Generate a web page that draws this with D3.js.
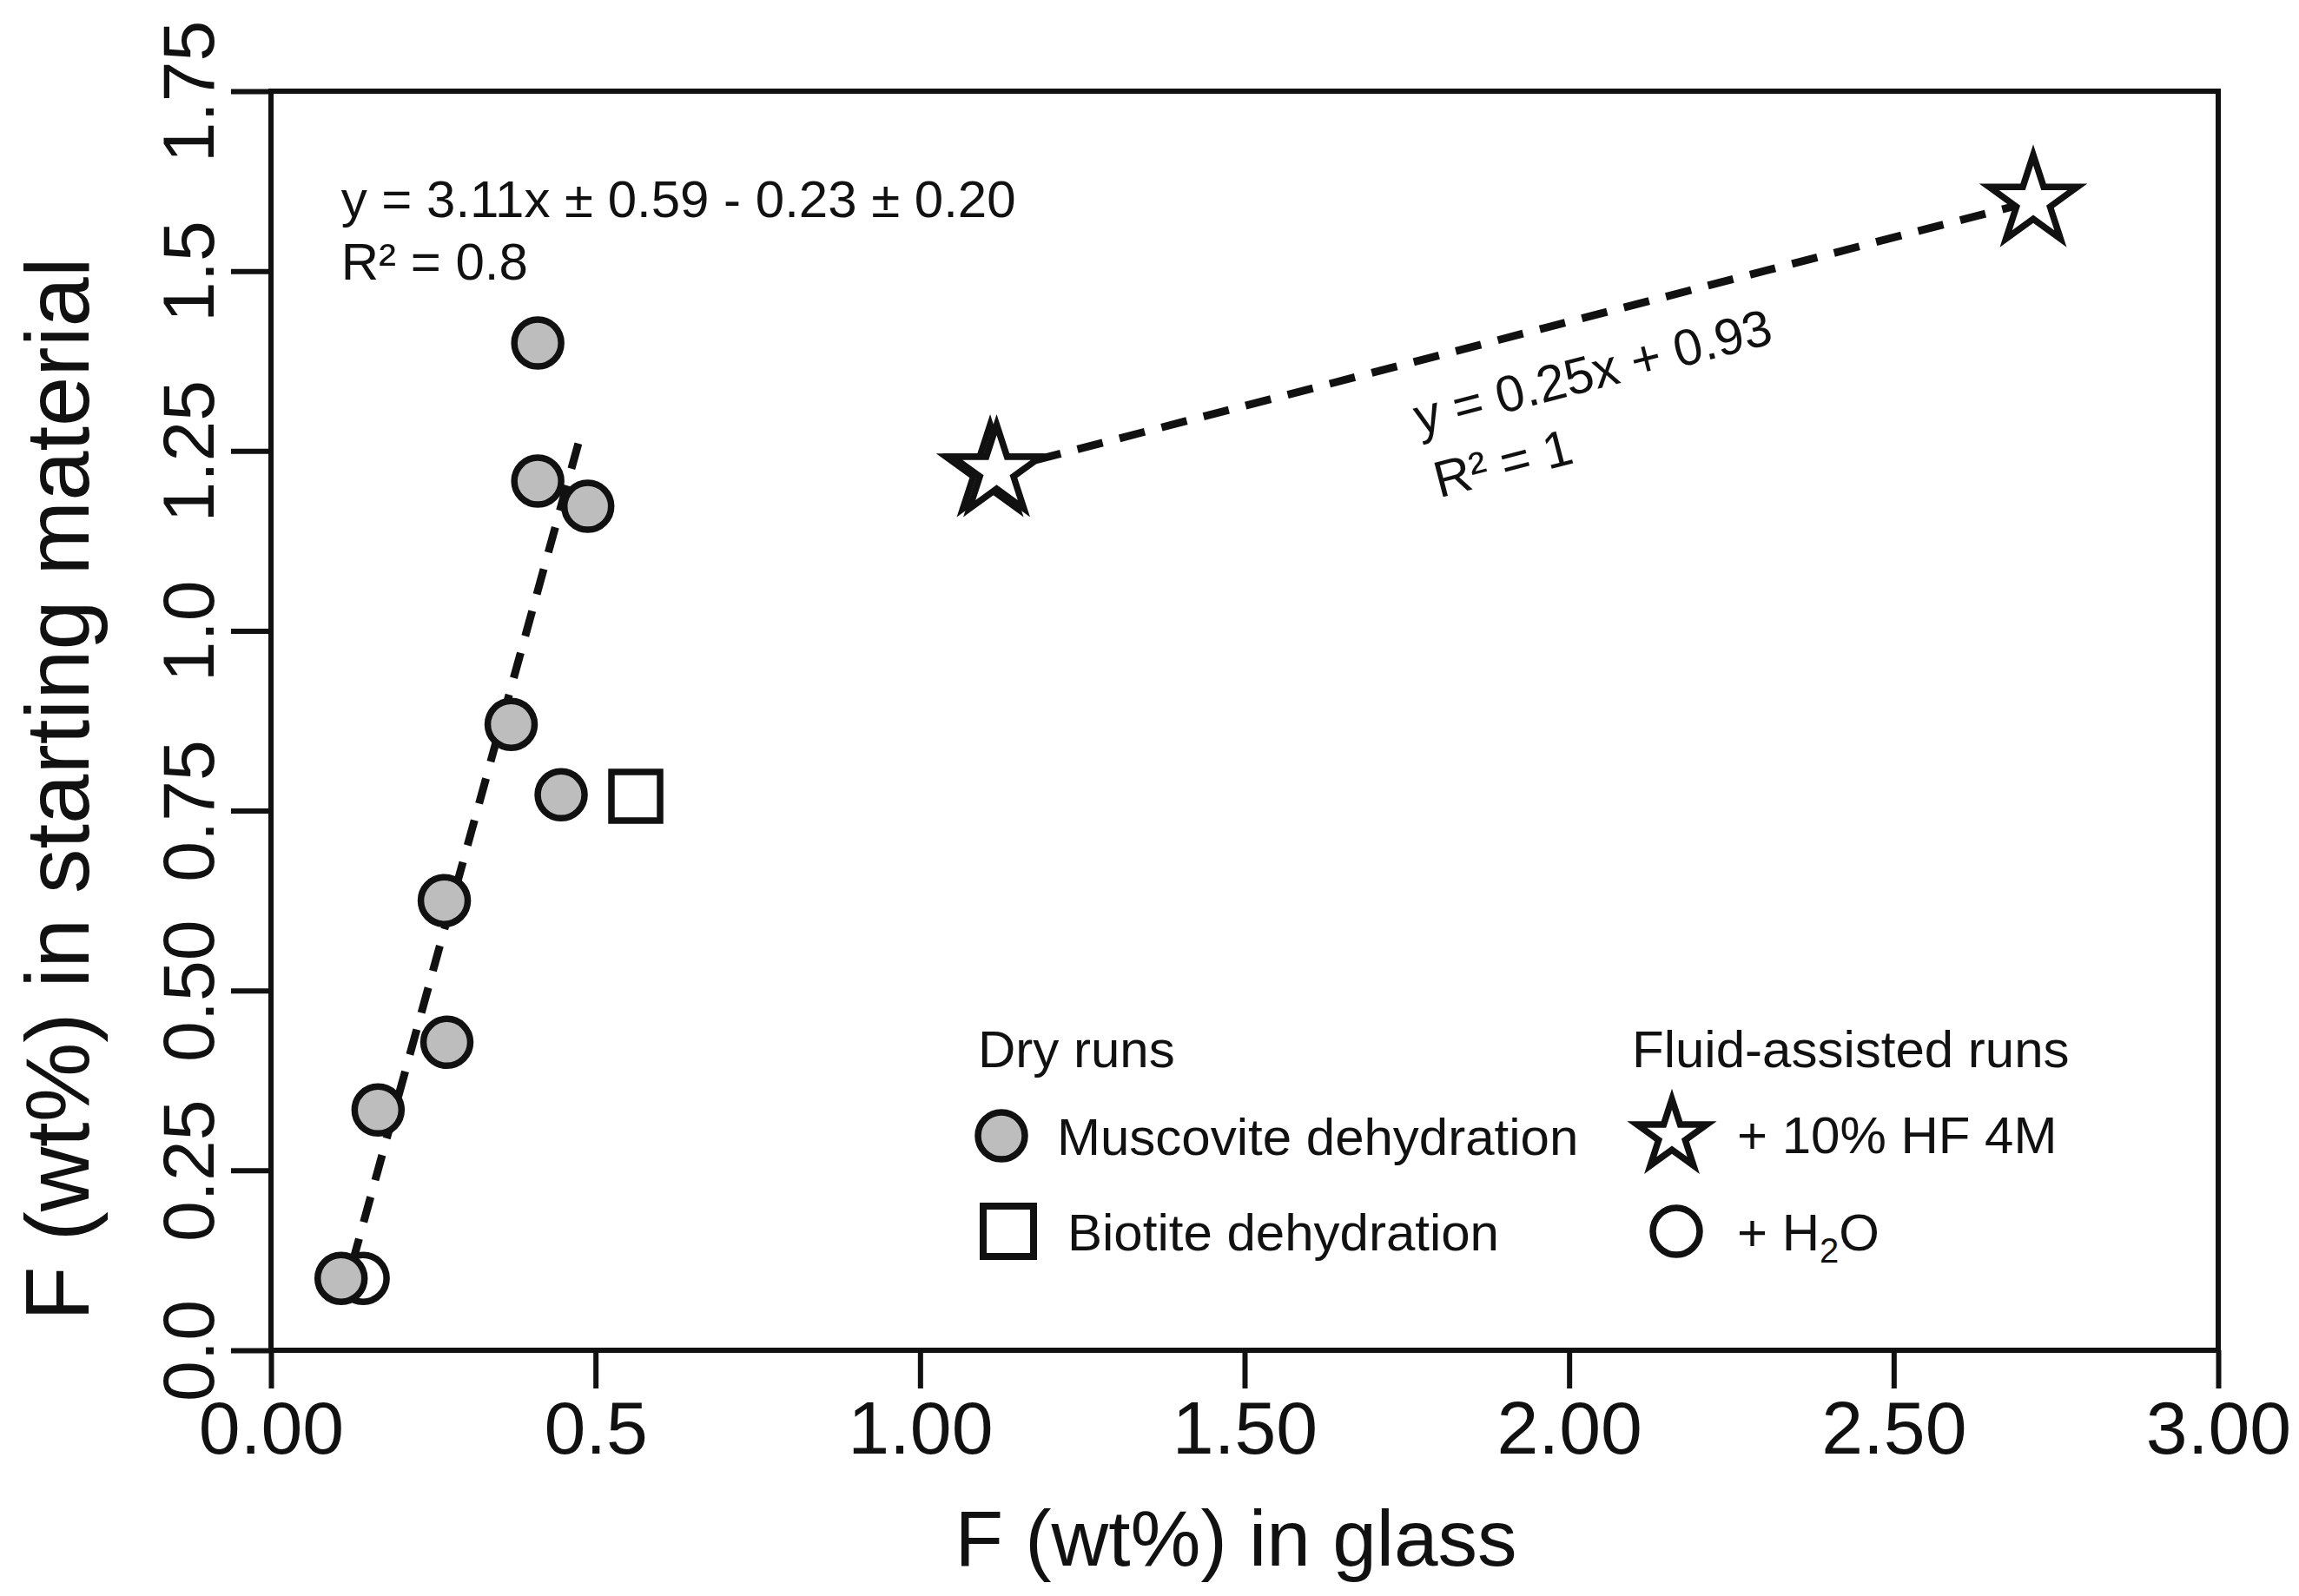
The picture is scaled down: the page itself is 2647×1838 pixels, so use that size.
<!DOCTYPE html>
<html>
<head>
<meta charset="utf-8">
<script src="https://cdn.jsdelivr.net/npm/d3@7"></script>
<style>
  body { margin: 0; background: #fff; }
  text { font-family: "Liberation Sans", Arial, sans-serif; fill: #111; }
</style>
</head>
<body>
<div id="chart-area"></div>
<script>
// values
const xTicks = [0, 0.5, 1, 1.5, 2, 2.5, 3]
const xTickLabels = ["0.00", "0.5", "1.00", "1.50", "2.00", "2.50", "3.00"]
const yTicks = [0, 0.25, 0.5, 0.75, 1, 1.25, 1.5, 1.75]
const yTickLabels = ["0.0", "0.25", "0.50", "0.75", "1.0", "1.25", "1.5", "1.75"]

// dry runs
const muscoviteX = [0.411, 0.411, 0.488, 0.370, 0.447, 0.267, 0.271, 0.165, 0.108]
const muscoviteY = [1.40, 1.208, 1.173, 0.870, 0.772, 0.625, 0.428, 0.334, 0.10]
const biotiteX = [0.562]
const biotiteY = [0.77]
// fluid-assisted runs
const hfX = [1.108, 1.118, 2.715]
const hfY = [1.222, 1.222, 1.597]
const waterX = [0.142]
const waterY = [0.10]

// regression lines (end points as drawn)
const fitDryX = [0.125, 0.475]
const fitDryY = [0.12, 1.265]
const fitHfX = [1.113, 2.715]
const fitHfY = [1.222, 1.597]

const W = 2647, H = 1838
const margin = {left: 312, top: 105, right: 93, bottom: 283}
const width = W - margin.left - margin.right
const height = H - margin.top - margin.bottom

const svg = d3.select("#chart-area")
    .append("svg")
    .attr("width", W)
    .attr("height", H)

svg.append("rect").attr("width", W).attr("height", H).attr("fill", "#fff")

const g = svg.append("g")
    .attr("transform", `translate(${margin.left}, ${margin.top})`)

const x = d3.scaleLinear().domain([0, 3]).range([0, width])
const y = d3.scaleLinear().domain([0, 1.75]).range([height, 0])

// axes
const xAxisCall = d3.axisBottom(x)
    .tickValues(xTicks)
    .tickSize(44)
    .tickPadding(14)
    .tickFormat((d, i) => xTickLabels[i])
const xAxis = g.append("g")
    .attr("class", "x axis")
    .attr("transform", `translate(0, ${height})`)
    .call(xAxisCall)
xAxis.selectAll("text").attr("font-size", 86)

const yAxisCall = d3.axisLeft(y)
    .tickValues(yTicks)
    .tickSize(46)
    .tickFormat((d, i) => yTickLabels[i])
const yAxis = g.append("g")
    .attr("class", "y axis")
    .call(yAxisCall)
yAxis.selectAll("text")
    .attr("font-size", 84)
    .attr("text-anchor", "middle")
    .attr("x", 0)
    .attr("dy", 0)
    .attr("transform", "translate(-66, 0) rotate(-90)")

g.selectAll(".axis path, .axis line")
    .attr("stroke", "#111")
    .attr("stroke-width", 6)
g.selectAll(".axis .domain").remove()

// frame
g.append("rect")
    .attr("width", width)
    .attr("height", height)
    .attr("fill", "none")
    .attr("stroke", "#111")
    .attr("stroke-width", 6)

// axis titles
svg.append("text")
    .attr("x", margin.left + width / 2 - 10)
    .attr("y", 1803)
    .attr("text-anchor", "middle")
    .attr("font-size", 91)
    .text("F (wt%) in glass")

svg.append("text")
    .attr("transform", `translate(102, ${margin.top + y(0.78)}) rotate(-90)`)
    .attr("text-anchor", "middle")
    .attr("font-size", 103)
    .text("F (wt%) in starting material")

// regression lines
const line = d3.line().x(d => x(d[0])).y(d => y(d[1]))

g.append("path")
    .attr("d", line(d3.zip(fitDryX, fitDryY)))
    .attr("fill", "none")
    .attr("stroke", "#111")
    .attr("stroke-width", 9)
    .attr("stroke-dasharray", "30,20")

g.append("path")
    .attr("d", line(d3.zip(fitHfX, fitHfY)))
    .attr("fill", "none")
    .attr("stroke", "#111")
    .attr("stroke-width", 9)
    .attr("stroke-dasharray", "30,20")

// equations
const eq1 = g.append("text")
    .attr("x", x(0.108))
    .attr("y", y(1.575))
    .attr("font-size", 60)
eq1.append("tspan").text("y = 3.11x \u00b1 0.59 - 0.23 \u00b1 0.20")
eq1.append("tspan").attr("x", x(0.108)).attr("dy", 72).text("R\u00b2 = 0.8")

const angle = Math.atan2(y(fitHfY[1]) - y(fitHfY[0]), x(fitHfX[1]) - x(fitHfX[0])) * 180 / Math.PI
const eq2 = g.append("text")
    .attr("transform", `translate(${x(1.769)}, ${y(1.272)}) rotate(${angle})`)
    .attr("font-size", 59)
eq2.append("tspan").text("y = 0.25x + 0.93")
eq2.append("tspan").attr("x", 4).attr("dy", 76).text("R\u00b2 = 1")

// points
const gray = "#bdbdbd"

g.selectAll(".water")
    .data(d3.zip(waterX, waterY))
    .enter().append("circle")
    .attr("class", "water")
    .attr("cx", d => x(d[0]))
    .attr("cy", d => y(d[1]))
    .attr("r", 27)
    .attr("fill", "#fff")
    .attr("stroke", "#111")
    .attr("stroke-width", 7.5)

g.selectAll(".musc")
    .data(d3.zip(muscoviteX, muscoviteY))
    .enter().append("circle")
    .attr("class", "musc")
    .attr("cx", d => x(d[0]))
    .attr("cy", d => y(d[1]))
    .attr("r", 27)
    .attr("fill", gray)
    .attr("stroke", "#111")
    .attr("stroke-width", 7.5)

g.selectAll(".bio")
    .data(d3.zip(biotiteX, biotiteY))
    .enter().append("path")
    .attr("class", "bio")
    .attr("d", d3.symbol().type(d3.symbolSquare).size(56 * 56))
    .attr("transform", d => `translate(${x(d[0])}, ${y(d[1])})`)
    .attr("fill", "#fff")
    .attr("stroke", "#111")
    .attr("stroke-width", 7.5)

g.selectAll(".hf")
    .data(d3.zip(hfX, hfY))
    .enter().append("path")
    .attr("class", "hf")
    .attr("d", d3.symbol().type(d3.symbolStar).size(3200))
    .attr("transform", d => `translate(${x(d[0])}, ${y(d[1])})`)
    .attr("fill", "#fff")
    .attr("stroke", "#111")
    .attr("stroke-width", 7.5)
    .attr("stroke-linejoin", "miter")

// legend
const legend = svg.append("g")
legend.append("text").attr("x", 1126).attr("y", 1229).attr("font-size", 60).text("Dry runs")
legend.append("text").attr("x", 1879).attr("y", 1229).attr("font-size", 60).text("Fluid-assisted runs")

legend.append("circle").attr("cx", 1153).attr("cy", 1308).attr("r", 27)
    .attr("fill", gray).attr("stroke", "#111").attr("stroke-width", 7.5)
legend.append("text").attr("x", 1217).attr("y", 1330).attr("font-size", 60).text("Muscovite dehydration")

legend.append("path").attr("d", d3.symbol().type(d3.symbolSquare).size(58 * 58))
    .attr("transform", "translate(1161, 1418)")
    .attr("fill", "#fff").attr("stroke", "#111").attr("stroke-width", 8)
legend.append("text").attr("x", 1229).attr("y", 1440).attr("font-size", 60).text("Biotite dehydration")

legend.append("path").attr("d", d3.symbol().type(d3.symbolStar).size(2000))
    .attr("transform", "translate(1925, 1308)")
    .attr("fill", "#fff").attr("stroke", "#111").attr("stroke-width", 7.5)
legend.append("text").attr("x", 2000).attr("y", 1328).attr("font-size", 60).text("+ 10% HF 4M")

legend.append("circle").attr("cx", 1930).attr("cy", 1418).attr("r", 27)
    .attr("fill", "#fff").attr("stroke", "#111").attr("stroke-width", 7.5)
const h2o = legend.append("text").attr("x", 2000).attr("y", 1440).attr("font-size", 60)
h2o.append("tspan").text("+ H")
h2o.append("tspan").attr("font-size", 40).attr("dy", 14).text("2")
h2o.append("tspan").attr("dy", -14).text("O")
</script>
</body>
</html>
